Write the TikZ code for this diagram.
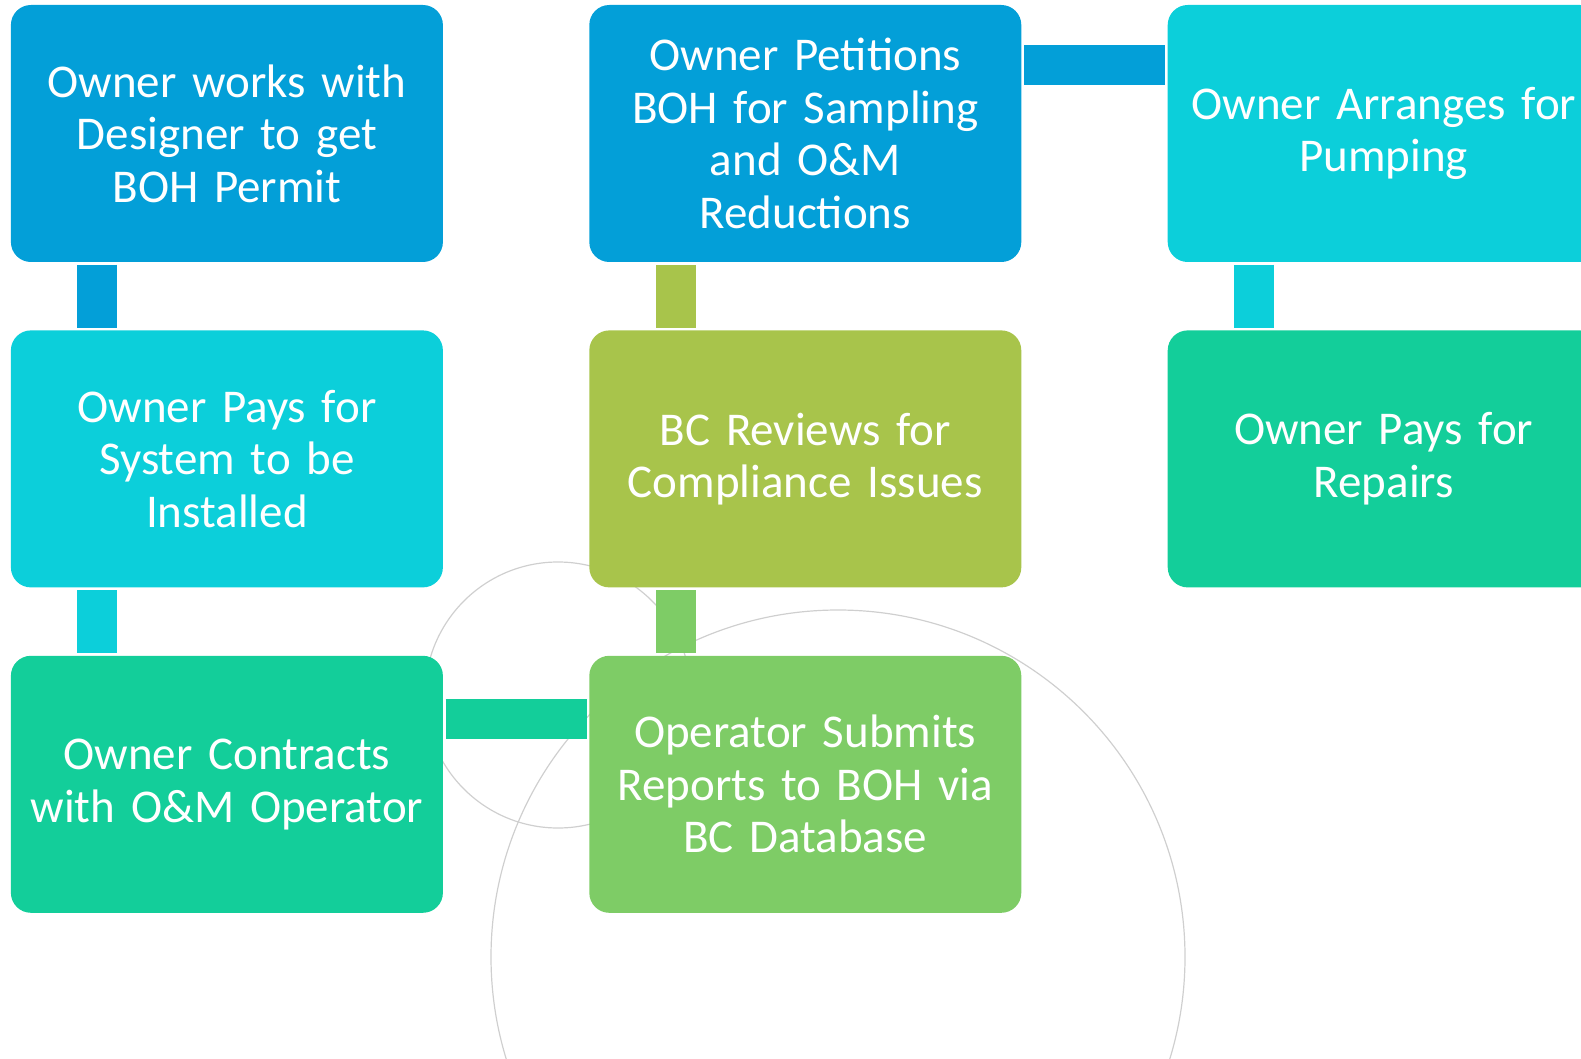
\documentclass[tikz,border=0pt]{standalone}
\usepackage{fontspec}
\setmainfont{Carlito}
\usepackage{tikz}
\usetikzlibrary{calc,positioning}
\definecolor{ocean}{HTML}{039FD8}
\definecolor{aqua}{HTML}{0CCFDA}
\definecolor{mint}{HTML}{13CE9A}
\definecolor{olive}{HTML}{A8C44B}
\definecolor{leaf}{HTML}{7ECC66}
\definecolor{ringgray}{HTML}{CFCFCF}
\newcommand{\stepfont}{\fontsize{47}{52.5}\selectfont}
\tikzset{
  stepbox/.style={
    rectangle,
    rounded corners=20pt,
    fill=#1,
    minimum width=432pt,
    minimum height=257pt,
    text width=428pt,
    inner sep=0pt,
    align=center,
    text=white,
    font=\stepfont},
  link/.style={draw=#1, line width=40pt, shorten <=2.5pt, shorten >=2.5pt},
  ring/.style={draw=ringgray, line width=1.2pt},
}

\begin{document}
\begin{tikzpicture}
  [x=1pt, y=-1pt,
  node distance=68pt and 146pt]
     \clip (0,0) rectangle (1581,1059);
     % background rings
     \draw[ring] (558,695) circle (133);
     \draw[ring] (838,957) circle (347);
     % first column
     \node[stepbox=ocean] (design) at (226.9,133.5) {Owner works with\\Designer to get\\BOH Permit};
     \node[stepbox=aqua, below=of design] (install) {Owner Pays for\\System to be\\Installed};
     \node[stepbox=mint, below=of install] (contract) {Owner Contracts\\with O\&M Operator};
     % second column
     \node[stepbox=leaf, right=of contract] (submit) {Operator Submits\\Reports to BOH via\\BC Database};
     \node[stepbox=olive, above=of submit] (review) {BC Reviews for\\Compliance Issues};
     \node[stepbox=ocean, above=of review] (petition) {Owner Petitions\\BOH for Sampling\\and O\&M\\Reductions};
     % third column
     \node[stepbox=aqua, right=of petition] (pumping) {Owner Arranges for\\Pumping};
     \node[stepbox=mint, below=of pumping] (repairs) {Owner Pays for\\Repairs};
     % connectors
     \draw[link=ocean] ($(design.south west)!0.2!(design.south east)$) -- ($(install.north west)!0.2!(install.north east)$);
     \draw[link=aqua] ($(install.south west)!0.2!(install.south east)$) -- ($(contract.north west)!0.2!(contract.north east)$);
     \draw[link=mint] ($(contract.north east)!0.245!(contract.south east)$) -- ($(submit.north west)!0.245!(submit.south west)$);
     \draw[link=leaf] ($(submit.north west)!0.2!(submit.north east)$) -- ($(review.south west)!0.2!(review.south east)$);
     \draw[link=olive] ($(review.north west)!0.2!(review.north east)$) -- ($(petition.south west)!0.2!(petition.south east)$);
     \draw[link=ocean] ($(petition.north east)!0.235!(petition.south east)$) -- ($(pumping.north west)!0.235!(pumping.south west)$);
     \draw[link=aqua] ($(pumping.south west)!0.2!(pumping.south east)$) -- ($(repairs.north west)!0.2!(repairs.north east)$);
\end{tikzpicture}
\end{document}
